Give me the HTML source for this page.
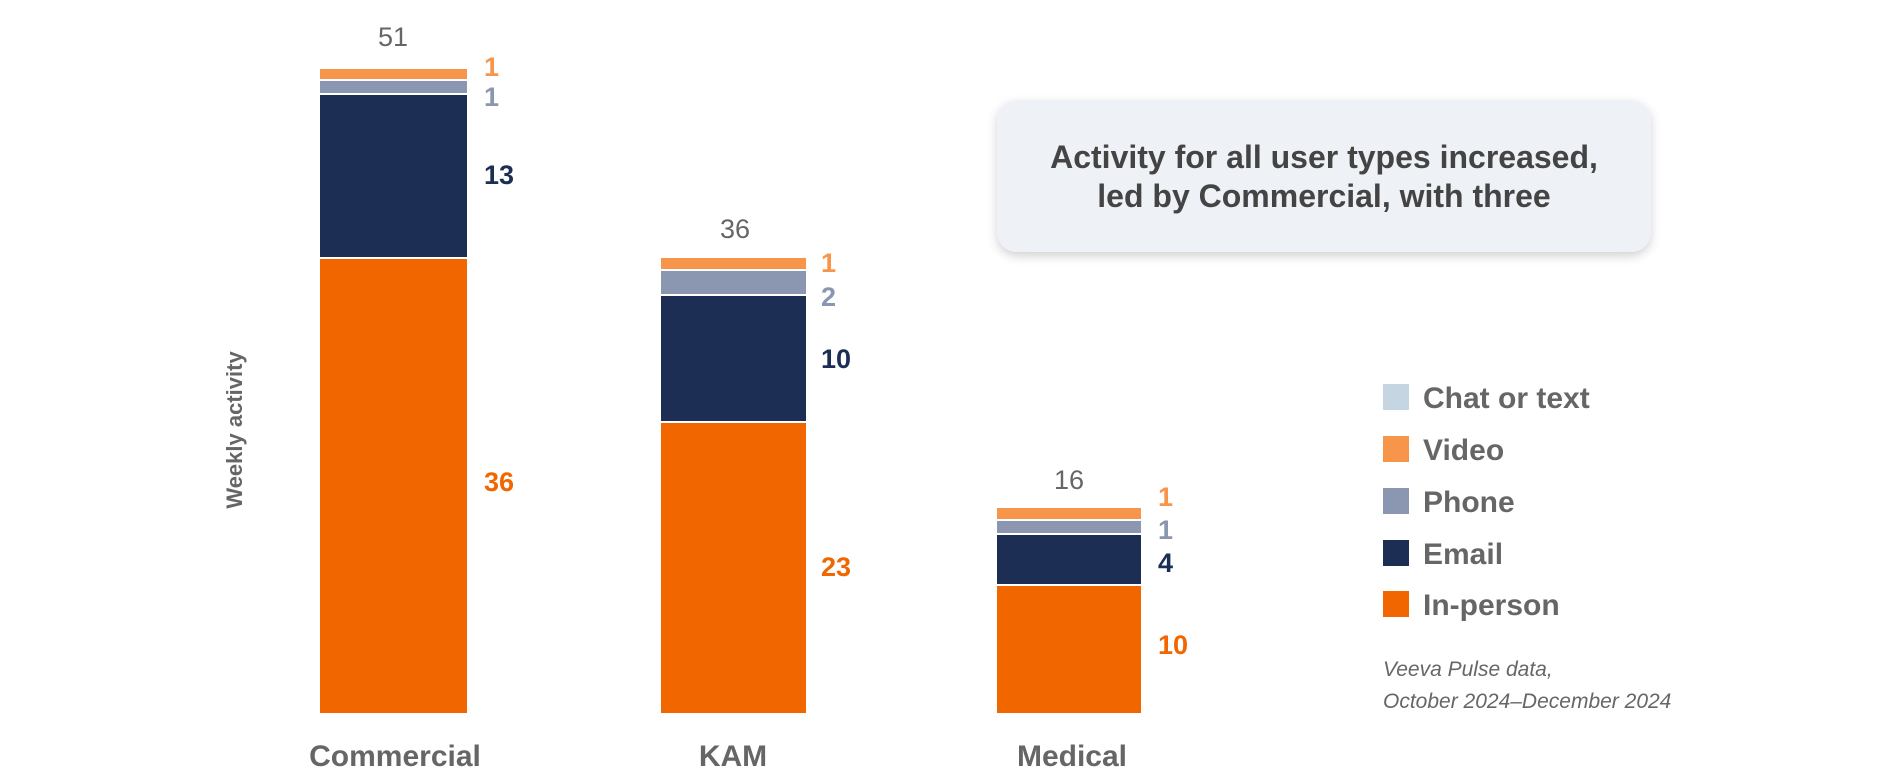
<!DOCTYPE html>
<html><head><meta charset="utf-8"><style>
html,body{margin:0;padding:0;background:#fff;}
svg{display:block;}
text{font-family:"Liberation Sans Narrow","Liberation Sans",sans-serif;}
</style></head><body>
<svg width="1880" height="783" viewBox="0 0 1880 783" xmlns="http://www.w3.org/2000/svg">
<defs><filter id="sh" x="-10%" y="-20%" width="120%" height="150%"><feDropShadow dx="0" dy="4" stdDeviation="5" flood-color="#000" flood-opacity="0.18"/></filter></defs>
<!-- Commercial -->
<rect x="320" y="259" width="147" height="454" fill="#f26600"/>
<rect x="320" y="95" width="147" height="162" fill="#1c2e54"/>
<rect x="320" y="81" width="147" height="12" fill="#8b97b0"/>
<rect x="320" y="69" width="147" height="10" fill="#f7964b"/>
<!-- KAM -->
<rect x="661" y="423" width="145" height="290" fill="#f26600"/>
<rect x="661" y="296" width="145" height="125" fill="#1c2e54"/>
<rect x="661" y="271" width="145" height="23" fill="#8b97b0"/>
<rect x="661" y="258" width="145" height="11" fill="#f7964b"/>
<!-- Medical -->
<rect x="997" y="586" width="144" height="127" fill="#f26600"/>
<rect x="997" y="535" width="144" height="49" fill="#1c2e54"/>
<rect x="997" y="521" width="144" height="12" fill="#8b97b0"/>
<rect x="997" y="508" width="144" height="11" fill="#f7964b"/>
<g font-size="27" text-anchor="middle" fill="#666">
<text x="393" y="46">51</text><text x="735" y="238">36</text><text x="1069" y="489">16</text>
</g>
<g font-size="27" font-weight="bold">
<text x="484" y="76" fill="#f7964b">1</text>
<text x="484" y="106" fill="#8b97b0">1</text>
<text x="484" y="184" fill="#1c2e54">13</text>
<text x="484" y="491" fill="#f26600">36</text>
<text x="821" y="272" fill="#f7964b">1</text>
<text x="821" y="306" fill="#8b97b0">2</text>
<text x="821" y="368" fill="#1c2e54">10</text>
<text x="821" y="576" fill="#f26600">23</text>
<text x="1158" y="506" fill="#f7964b">1</text>
<text x="1158" y="539" fill="#8b97b0">1</text>
<text x="1158" y="572" fill="#1c2e54">4</text>
<text x="1158" y="654" fill="#f26600">10</text>
</g>
<g font-size="30" font-weight="bold" fill="#666" text-anchor="middle">
<text x="395" y="766">Commercial</text><text x="733" y="766">KAM</text><text x="1072" y="766">Medical</text>
</g>
<text x="0" y="0" transform="translate(242,430) rotate(-90)" font-size="22" font-weight="bold" fill="#666" text-anchor="middle">Weekly activity</text>
<rect x="997" y="100" width="654" height="152" rx="20" fill="#eef1f5" filter="url(#sh)"/>
<g font-size="32" font-weight="bold" fill="#444" text-anchor="middle">
<text x="1324" y="168">Activity for all user types increased,</text>
<text x="1324" y="207">led by Commercial, with three</text>
</g>
<rect x="1383" y="384" width="26" height="26" fill="#c5d5e2"/>
<rect x="1383" y="436" width="26" height="26" fill="#f7964b"/>
<rect x="1383" y="488" width="26" height="26" fill="#8b97b0"/>
<rect x="1383" y="540" width="26" height="26" fill="#1c2e54"/>
<rect x="1383" y="591" width="26" height="26" fill="#f26600"/>
<g font-size="30" font-weight="bold" fill="#666">
<text x="1423" y="408">Chat or text</text>
<text x="1423" y="460">Video</text>
<text x="1423" y="512">Phone</text>
<text x="1423" y="564">Email</text>
<text x="1423" y="615">In-person</text>
</g>
<g font-size="21" font-style="italic" fill="#666">
<text x="1383" y="676">Veeva Pulse data,</text>
<text x="1383" y="708">October 2024–December 2024</text>
</g>
</svg>
</body></html>
